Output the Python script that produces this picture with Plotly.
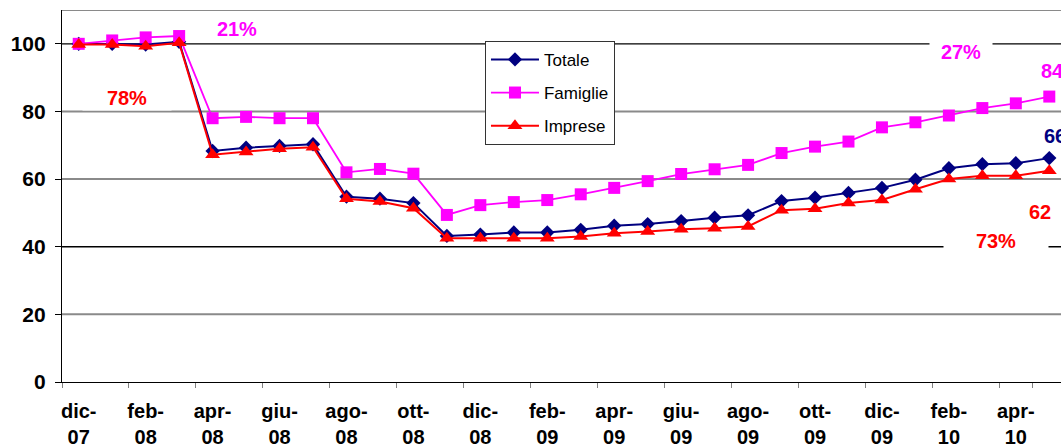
import plotly.graph_objects as go

months = ["dic", "gen", "feb", "mar", "apr", "mag", "giu", "lug", "ago", "set", "ott", "nov"]
years = ["07"] + ["08"] * 12 + ["09"] * 12 + ["10"] * 5
categories = [f"{months[i % 12]}-{years[i]}" for i in range(30)]

totale = [100, 100, 99.8, 100.6, 68.3, 69.3, 69.8, 70.3, 54.8, 54.2, 52.9, 43.2, 43.6, 44.2,
          44.2, 45.0, 46.2, 46.7, 47.6, 48.6, 49.3, 53.5, 54.5, 55.9, 57.4, 59.8, 63.2, 64.4, 64.7, 66.2]
famiglie = [100, 101.0, 101.9, 102.3, 78.0, 78.4, 78.0, 78.0, 62.0, 63.0, 61.6, 49.4, 52.3, 53.2,
            53.8, 55.5, 57.4, 59.4, 61.5, 62.9, 64.2, 67.7, 69.6, 71.1, 75.3, 76.8, 78.8, 81.0, 82.4, 84.4]
imprese = [99.8, 99.8, 99.3, 100.3, 67.2, 68.0, 69.0, 69.4, 54.2, 53.4, 51.4, 42.5, 42.5, 42.5,
           42.5, 43.0, 44.0, 44.5, 45.2, 45.5, 46.0, 50.8, 51.2, 52.9, 53.8, 57.0, 60.0, 61.0, 61.0, 62.5]

tick_cats = categories[::2]
tick_text = ["<b>" + c.replace("-", "-<br>") + "</b>" for c in tick_cats]
y_ticks = [0, 20, 40, 60, 80, 100]
y_text = [f"<b>{v}</b>" for v in y_ticks]

FONT = "Liberation Sans, Arial, sans-serif"

fig = go.Figure()
fig.add_trace(go.Scatter(x=categories, y=totale, name="Totale", mode="lines+markers",
                         line=dict(color="#000080", width=2),
                         marker=dict(symbol="diamond", size=11, color="#000080"),
                         legendgroup="a"))
fig.add_trace(go.Scatter(x=categories, y=famiglie, name="Famiglie", mode="lines+markers",
                         line=dict(color="#FF00FF", width=1.8),
                         marker=dict(symbol="square", size=12, color="#FF00FF"),
                         legendgroup="b"))
fig.add_trace(go.Scatter(x=categories, y=imprese, name="Imprese", mode="lines+markers",
                         line=dict(color="#FF0000", width=2),
                         marker=dict(symbol="triangle-up", size=13, color="#FF0000"),
                         legendgroup="c"))

# gridlines: black at 100 and 40, gray at others, gray border on top
for yv, col, w in [(100, "black", 1.3), (40, "black", 1.3), (80, "#8a8a8a", 2),
                   (60, "#8a8a8a", 2), (20, "#8a8a8a", 2), (110, "#8a8a8a", 2)]:
    fig.add_shape(type="line", xref="paper", yref="y", x0=0, x1=1, y0=yv, y1=yv,
                  line=dict(color=col, width=w), layer="between")

annots = [
    ("<b>21%</b>", 4.72, 104.3, "#FF00FF", 60),
    ("<b>78%</b>", 1.43, 84.0, "#FF0000", 86),
    ("<b>27%</b>", 26.36, 97.5, "#FF00FF", 60),
    ("<b>73%</b>", 27.42, 41.8, "#FF0000", 102),
]
for txt, xx, yy, col, w in annots:
    fig.add_annotation(text=txt, x=xx, y=yy, xref="x", yref="y", showarrow=False,
                       font=dict(family=FONT, size=20, color=col), bgcolor="white",
                       width=w, borderpad=1, xanchor="center", yanchor="middle")
for txt, xx, yy, col in [("<b>84</b>", 28.69, 92.1, "#FF00FF"),
                         ("<b>66</b>", 28.79, 72.6, "#000080"),
                         ("<b>62</b>", 28.33, 50.4, "#FF0000")]:
    fig.add_annotation(text=txt, x=xx, y=yy, xref="x", yref="y", showarrow=False,
                       font=dict(family=FONT, size=20, color=col),
                       xanchor="left", yanchor="middle")

fig.update_layout(
    width=1061, height=448,
    margin=dict(l=62, r=0, t=10, b=66, autoexpand=False),
    paper_bgcolor="white", plot_bgcolor="white",
    font=dict(family=FONT, color="black"),
    showlegend=True,
    legend=dict(x=0.4234, y=0.917, xanchor="left", yanchor="top",
                bgcolor="white", bordercolor="#333333", borderwidth=1,
                font=dict(family=FONT, size=17, color="black"),
                traceorder="grouped", tracegroupgap=8, itemwidth=48),
)
fig.update_xaxes(type="category", categoryorder="array", categoryarray=categories,
                 range=[-0.5, 29.35], tickmode="array", tickvals=tick_cats, ticktext=tick_text,
                 tickson="boundaries", ticks="outside", ticklen=5, tickcolor="#808080",
                 showgrid=False, showline=True, linecolor="black", linewidth=1.2,
                 tickfont=dict(family=FONT, size=20, color="black"), tickangle=0,
                 ticklabelstandoff=11, zeroline=False, automargin=False)
fig.update_yaxes(range=[0, 110], tickmode="array", tickvals=y_ticks, ticktext=y_text,
                 ticks="outside", ticklen=6, tickcolor="black", showgrid=False,
                 showline=True, linecolor="black", linewidth=1.2, zeroline=False,
                 tickfont=dict(family=FONT, size=21, color="black"), ticklabelstandoff=5,
                 automargin=False)

fig.write_html("out.html", config={"displayModeBar": False},
               post_script="document.body.style.margin='0';")
